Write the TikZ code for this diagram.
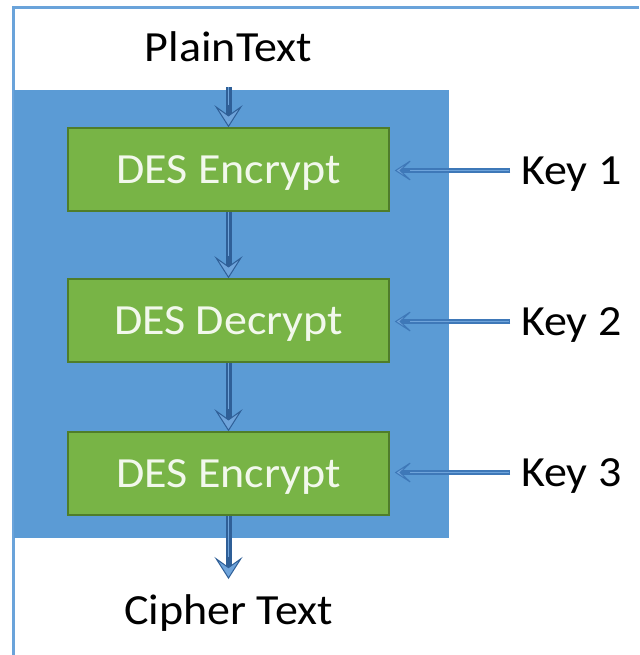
\documentclass[tikz,border=0pt]{standalone}
\usepackage{fontspec}
\setmainfont{Carlito}[FakeStretch=1.07]
\usetikzlibrary{arrows.meta}
\definecolor{bgblue}{HTML}{5B9BD5}
\definecolor{framecol}{HTML}{6AA3DA}
\definecolor{greenfill}{HTML}{78B446}
\definecolor{greenedge}{HTML}{4F7D2A}
\definecolor{greentext}{HTML}{F2F8EC}
\definecolor{shaftdark}{HTML}{2F5F97}
\definecolor{shaftlight}{HTML}{6FA4DB}
\definecolor{keyshaft}{HTML}{3E78B8}
\begin{document}
\begin{tikzpicture}[x=1pt,y=-1pt,
  bigtext/.style={font=\fontsize{43}{50}\selectfont, inner sep=0pt, text height=28pt, text depth=0pt},
  desbox/.style={bigtext, text=greentext, fill=greenfill, draw=greenedge, line width=1.5pt,
    minimum width=321pt, minimum height=83pt},
  lbltext/.style={bigtext, text=black},
  varrow/.style={line width=6pt, draw=shaftdark,
    -{Stealth[length=22pt,width=28pt,inset=10pt,line width=1pt,fill=shaftlight,color=shaftdark]}},
  vinner/.style={line width=1.5pt, draw=shaftlight, shorten >=22pt},
  karrow/.style={line width=4.5pt, draw=keyshaft, shorten <=11pt, shorten >=5pt,
    -{Stealth[length=20pt,width=26pt,inset=14pt,line width=1pt,fill=shaftlight,color=keyshaft]}},
  kinner/.style={line width=1.2pt, draw=shaftlight, shorten <=12pt, shorten >=20pt},
  framestyle/.style={line width=3pt, draw=framecol}
]
\useasboundingbox (0,0) rectangle (639,655);
\fill[white] (0,0) rectangle (639,655);
\draw[framestyle] (639,8) -- (13,8) -- (13,655);
\fill[bgblue] (14,90) rectangle (449,538);

\node[desbox] (b1) at (228.5,169.5) {DES Encrypt};
\node[desbox] (b2) at (228.5,320.5) {DES Decrypt};
\node[desbox] (b3) at (228.5,473.5) {DES Encrypt};

\node[lbltext] (pt) at (228.5,47.5) {PlainText};
\node[lbltext] (ct) at (228.5,610) {Cipher Text};
\node[lbltext, anchor=west] (k1) at (521,170.5) {Key 1};
\node[lbltext, anchor=west] (k2) at (521,321.5) {Key 2};
\node[lbltext, anchor=west] (k3) at (521,472.5) {Key 3};

\coordinate (ptend) at (228.5,87);
\coordinate (ctend) at (228.5,579);

\draw[varrow] (ptend) -- (b1.north);
\draw[varrow] (b1.south) -- (b2.north);
\draw[varrow] (b2.south) -- (b3.north);
\draw[varrow] (b3.south) -- (ctend);
\draw[vinner] (ptend) -- (b1.north);
\draw[vinner] (b1.south) -- (b2.north);
\draw[vinner] (b2.south) -- (b3.north);
\draw[vinner] (b3.south) -- (ctend);

\draw[karrow] (k1.west) -- (b1.east |- k1.west);
\draw[karrow] (k2.west) -- (b2.east |- k2.west);
\draw[karrow] (k3.west) -- (b3.east |- k3.west);
\draw[kinner] (k1.west) -- (b1.east |- k1.west);
\draw[kinner] (k2.west) -- (b2.east |- k2.west);
\draw[kinner] (k3.west) -- (b3.east |- k3.west);
\end{tikzpicture}
\end{document}
